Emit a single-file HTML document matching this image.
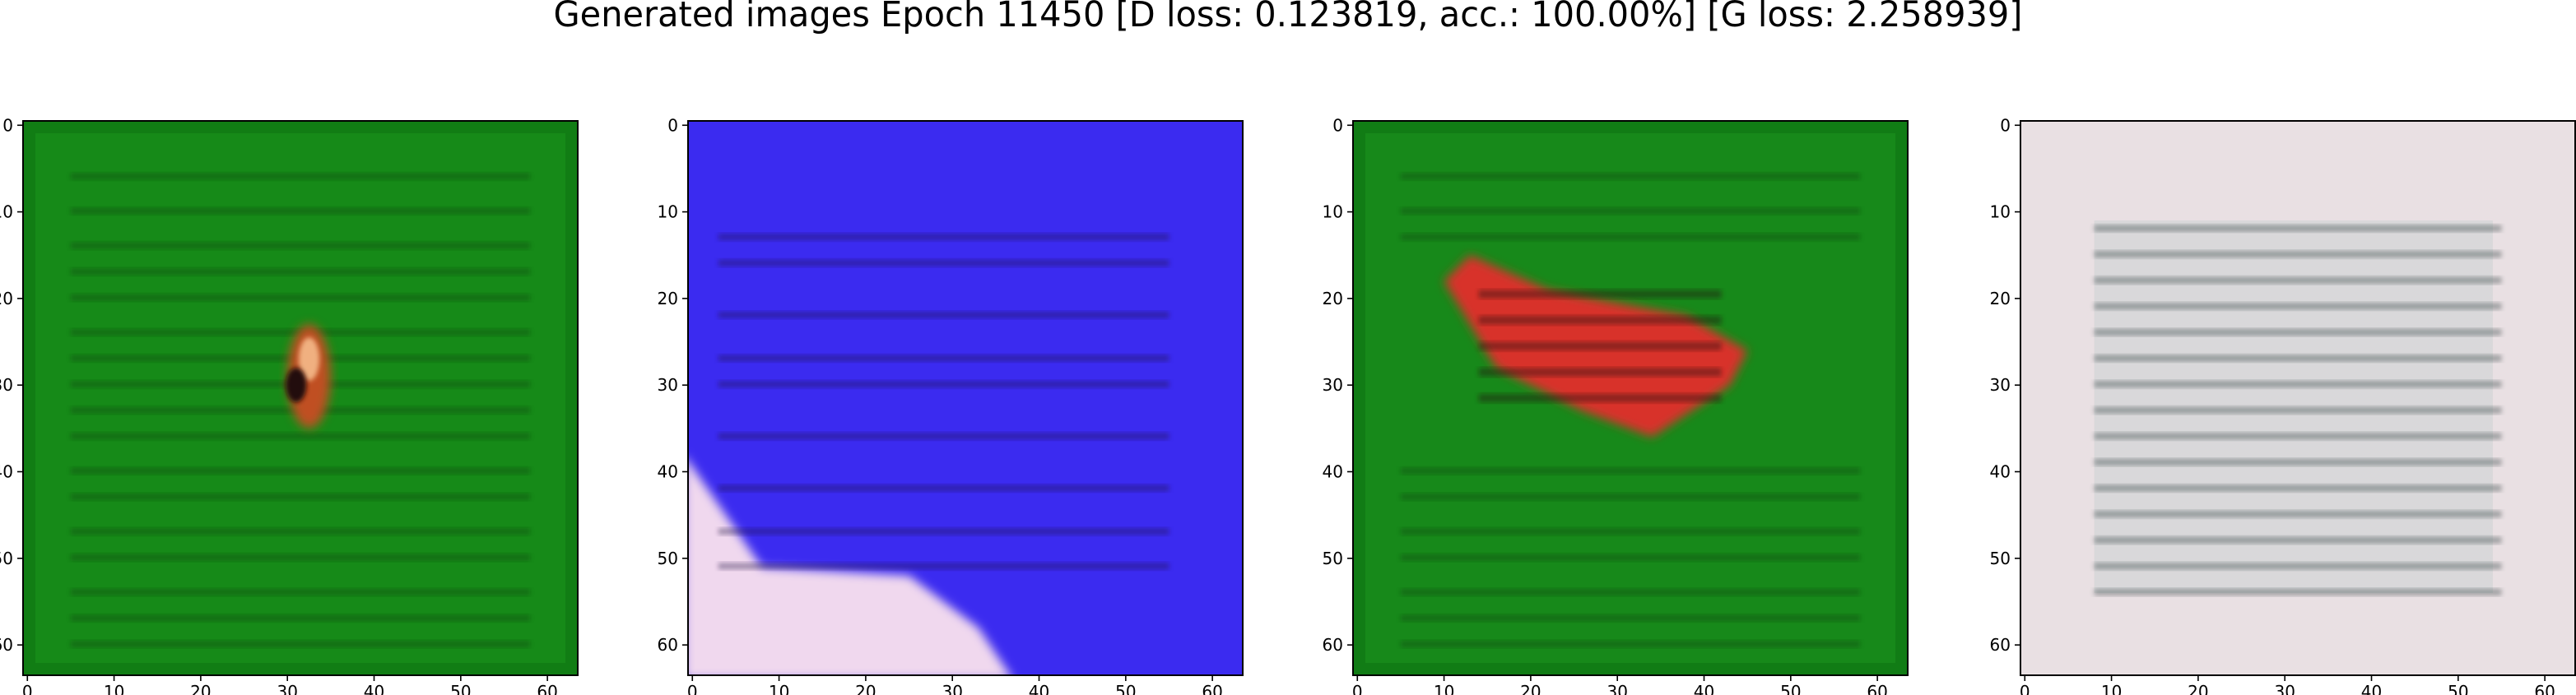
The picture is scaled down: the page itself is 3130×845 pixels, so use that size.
<!DOCTYPE html>
<html><head><meta charset="utf-8"><style>
body{margin:0;background:#fff;}
svg{display:block;font-family:"DejaVu Sans","Liberation Sans",sans-serif;}
</style></head><body>
<svg id="fig" width="3130" height="845" viewBox="0 0 3130 845" xmlns="http://www.w3.org/2000/svg">
<defs>
<filter id="blur1" x="-20%" y="-20%" width="140%" height="140%"><feGaussianBlur stdDeviation="6"/></filter>
<filter id="blur0" x="-20%" y="-20%" width="140%" height="140%"><feGaussianBlur stdDeviation="3"/></filter>
</defs>
<text x="1565" y="32" font-size="43" text-anchor="middle" fill="#000" textLength="1785" lengthAdjust="spacingAndGlyphs">Generated images Epoch 11450 [D loss: 0.123819, acc.: 100.00%] [G loss: 2.258939]</text>
<g id="panels"></g>
</svg>
<script>
const ticks=[0,10,20,30,40,50,60];
const lefts=[28,836,1644,2455];
const top0=147, size=674, npx=64;
const px=size/npx;
const stripes1=[6,10,14,17,20,24,27,30,33,36,40,43,47,50,54,57,60];
const stripes2=[13,16,22,27,30,36,42,47,51];
const stripes3=[6,10,13,40,43,47,50,54,57,60];
const stripes4=[12,15,18,21,24,27,30,33,36,39,42,45,48,51,54];
const NS="http://www.w3.org/2000/svg";
const g=document.getElementById('panels');
function el(t,a,p){const e=document.createElementNS(NS,t);for(const k in a)e.setAttribute(k,a[k]);(p||g).appendChild(e);return e;}
function X(i,v){return lefts[i]+(v+0.5)*px;}
function Y(v){return top0+(v+0.5)*px;}
const bgs=['#168a18','#3b2bf0','#17891a','#e9e0e3'];
const stripeCols=['#0c3f0c','#1a0f40','#0c3f0c','#203030'];
const stripeSets=[stripes1,stripes2,stripes3,stripes4];
const stripeX=[[5,58],[3,55],[5,58],[8,55]];
for(let i=0;i<4;i++){
  const pg=el('g',{});
  
  
  const cp=el('clipPath',{id:'cp'+i},pg);
  el('rect',{x:lefts[i],y:top0,width:size,height:size},cp);
  const im=el('g',{'clip-path':'url(#cp'+i+')'},pg);
  
  
  el('rect',{x:lefts[i],y:top0,width:size,height:size,fill:bgs[i]},im);
  if(i===0||i===2){
    el('rect',{x:lefts[i],y:top0,width:size,height:size,fill:'none',stroke:'#0a6a0e',"stroke-width":30,opacity:0.4},im);
  }
  if(i===1){
    el('polygon',{points:`${X(1,-1)},${Y(38)} ${X(1,8)},${Y(51)} ${X(1,25)},${Y(52)} ${X(1,33)},${Y(58)} ${X(1,37)},${Y(64)} ${X(1,-1)},${Y(64)}`,fill:'#f0d8ee',filter:'url(#blur1)'},im);
  }
  if(i===3){
    el('rect',{x:X(3,8),y:Y(11),width:46*px,height:43*px,fill:'#cfd2d4',opacity:0.6},im);
  }
  const sx=stripeX[i];
  for(const r of stripeSets[i]){
    el('rect',{x:X(i,sx[0]),y:Y(r)-px*0.5,width:(sx[1]-sx[0])*px,height:px*0.8,fill:stripeCols[i],opacity:0.35,filter:'url(#blur0)'},im);
  }
  if(i===0){
    el('ellipse',{cx:X(0,32.5),cy:Y(29),rx:2.5*px,ry:6*px,fill:'#c05020',filter:'url(#blur1)'},im);
    el('ellipse',{cx:X(0,32.5),cy:Y(27),rx:1.2*px,ry:2.5*px,fill:'#f0b080',filter:'url(#blur0)'},im);
    el('ellipse',{cx:X(0,31),cy:Y(30),rx:1.2*px,ry:2*px,fill:'#201008',filter:'url(#blur0)'},im);
  }
  if(i===2){
    el('polygon',{points:`${X(2,10)},${Y(18)} ${X(2,13)},${Y(15)} ${X(2,22)},${Y(19)} ${X(2,38)},${Y(22)} ${X(2,45)},${Y(26)} ${X(2,43)},${Y(30)} ${X(2,34)},${Y(36)} ${X(2,26)},${Y(33)} ${X(2,16)},${Y(28)}`,fill:'#d8302a',filter:'url(#blur1)'},im);
    for(const r of [19,22,25,28,31]){
      el('rect',{x:X(2,14),y:Y(r),width:28*px,height:px,fill:'#201008',opacity:0.4,filter:'url(#blur0)'},im);
    }
  }
  el('rect',{x:lefts[i],y:top0,width:size,height:size,fill:'none',stroke:'#000',"stroke-width":2},pg);
  for(const t of ticks){
    const yt=el('line',{x1:lefts[i]-7,x2:lefts[i],y1:Y(t),y2:Y(t),stroke:'#000',"stroke-width":1.6},pg);
    
    
    const yl=el('text',{x:lefts[i]-12,y:Y(t)+7,"font-size":20,"text-anchor":"end"},pg);
    
    
    yl.textContent=t;
    const xt=el('line',{x1:X(i,t),x2:X(i,t),y1:top0+size,y2:top0+size+7,stroke:'#000',"stroke-width":1.6},pg);
    
    
    const xl=el('text',{x:X(i,t),y:top0+size+27,"font-size":20,"text-anchor":"middle"},pg);
    
    
    xl.textContent=t;
  }
}
</script>
</body></html>
